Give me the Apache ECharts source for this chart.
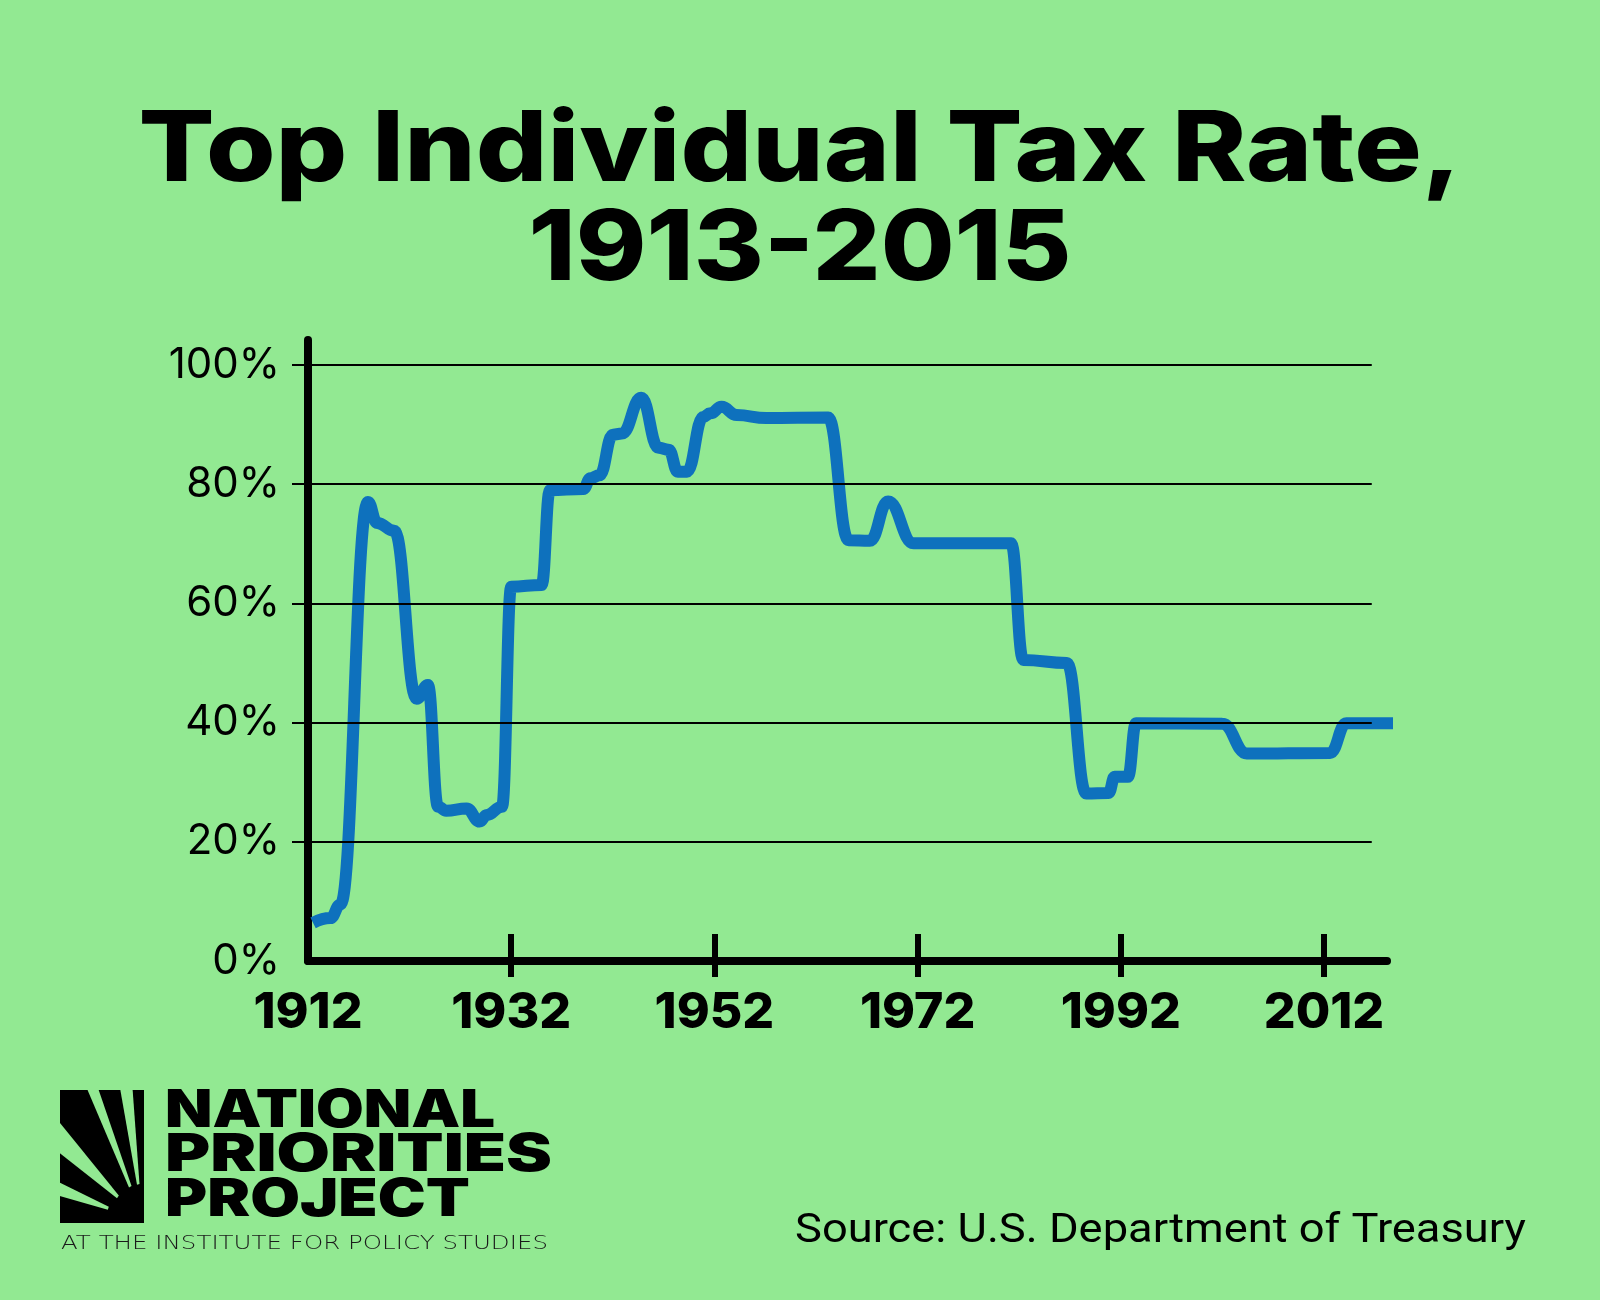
<!DOCTYPE html>
<html>
<head>
<meta charset="utf-8">
<title>Top Individual Tax Rate, 1913-2015</title>
<script src="https://cdn.jsdelivr.net/npm/echarts@6/dist/echarts.min.js"></script>
<style>
  html, body { margin: 0; padding: 0; background: #92e992; }
  #container { width: 1600px; height: 1300px; }
</style>
</head>
<body>
<div id="container"></div>
<script>
/* Values: year and top marginal rate (%),
   taken at the corners / turning points of the curve */
var years = [1912.5, 1914.2, 1915.2, 1917.9, 1918.8, 1920.5, 1922.7, 1923.8, 1924.8, 1925.6,
             1927.6, 1928.9, 1929.6, 1931.1, 1932.0, 1935.0, 1935.8, 1939.1, 1939.8, 1940.7,
             1942.0, 1942.9, 1944.8, 1946.5, 1947.5, 1948.4, 1949.3, 1950.9, 1951.6, 1952.7,
             1954.2, 1957.1, 1963.2, 1965.2, 1967.3, 1969.1, 1971.6, 1981.2, 1982.4, 1986.7,
             1988.6, 1990.8, 1991.4, 1992.7, 1993.5, 2002.0, 2004.4, 2012.6, 2014.2, 2019.5];
var rates = [6.4, 7.2, 9.5, 77, 73.5, 72.2, 44, 46.3, 25.9, 25.2,
             25.6, 23.4, 24.5, 25.9, 62.8, 63.1, 79, 79.2, 81, 81.5,
             88.3, 88.5, 94.5, 86.1, 85.8, 82.1, 82.1, 91.3, 91.9, 93,
             91.6, 91.1, 91.2, 70.6, 70.5, 77.1, 70.1, 70.1, 50.5, 50,
             28.1, 28.2, 30.9, 30.9, 39.9, 39.8, 34.8, 34.9, 39.9, 39.9];

var yearLabels = [1912, 1932, 1952, 1972, 1992, 2012];
var yearTicks = [1932, 1952, 1972, 1992, 2012];
var rateLabels = [0, 20, 40, 60, 80, 100];
var rateTicks = [20, 40, 60, 80, 100];

var seriesData = years.map(function (y, i) {
    return [y, rates[i]];
});

/* gridlines stop a little short of the end of the x axis */
var gridEnd = 2016.7;
var gridLines = rateTicks.map(function (v) {
    return [{ coord: [1912, v] }, { coord: [gridEnd, v] }];
});

/* measure text so lines of text can be stretched to their width */
var measureCtx = document.createElement('canvas').getContext('2d');
function fitScale(text, font, width) {
    measureCtx.font = font;
    return width / measureCtx.measureText(text).width;
}

var green = '#92e992';
var titleFont = '800 98px Inter';
var logoFont = '900 52px Inter';
var subFont = '300 20px "DejaVu Sans"';
var sourceFont = '400 40px Roboto';

function fittedText(text, left, top, width, font, color) {
    return {
        type: 'text',
        left: left,
        top: top,
        scaleX: fitScale(text, font, width),
        style: {
            text: text,
            font: font,
            fill: color || '#000'
        }
    };
}

function titleLine(text, y, width) {
    return {
        type: 'text',
        x: 800,
        y: y,
        scaleX: fitScale(text, titleFont, width),
        style: {
            text: text,
            font: titleFont,
            textAlign: 'center',
            fill: '#000'
        }
    };
}

var dom = document.getElementById('container');
var myChart = echarts.init(dom);

var yearFormatter = function (v) { return String(v); };

var option = {
    backgroundColor: green,
    animation: false,
    grid: {
        left: 308,
        right: 213,
        top: 340,
        bottom: 339
    },
    xAxis: [
        {
            type: 'value',
            position: 'bottom',
            min: 1912,
            max: 2018.2,
            interval: 20,
            axisLine: {
                show: true,
                lineStyle: { color: '#000', width: 8 }
            },
            axisTick: {
                show: true,
                inside: true,
                length: 27,
                customValues: yearTicks,
                lineStyle: { color: '#000', width: 6 }
            },
            axisLabel: {
                customValues: yearLabels,
                margin: 27,
                color: '#000',
                fontFamily: 'Inter',
                fontWeight: 800,
                fontSize: 50,
                formatter: yearFormatter
            },
            splitLine: { show: false }
        },
        {
            type: 'value',
            position: 'bottom',
            min: 1912,
            max: 2018.2,
            interval: 20,
            axisLine: { show: false },
            axisTick: {
                show: true,
                length: 16,
                customValues: yearTicks,
                lineStyle: { color: '#000', width: 6 }
            },
            axisLabel: { show: false },
            splitLine: { show: false }
        }
    ],
    yAxis: {
        type: 'value',
        min: 0,
        max: 104.2,
        interval: 20,
        axisLine: {
            show: true,
            lineStyle: { color: '#000', width: 8 }
        },
        axisTick: {
            show: true,
            length: 16,
            customValues: rateTicks,
            lineStyle: { color: '#000', width: 2 }
        },
        axisLabel: {
            customValues: rateLabels,
            margin: 28,
            color: '#000',
            fontFamily: 'Inter',
            fontWeight: 400,
            fontSize: 42,
            formatter: '{value}%'
        },
        splitLine: { show: false }
    },
    series: [
        {
            name: 'gridlines',
            type: 'line',
            data: [],
            silent: true,
            z: 1,
            markLine: {
                silent: true,
                symbol: 'none',
                label: { show: false },
                lineStyle: { color: '#000', width: 2, type: 'solid' },
                data: gridLines
            }
        },
        {
            name: 'Top Individual Tax Rate',
            type: 'line',
            xAxisIndex: 0,
            data: seriesData,
            showSymbol: false,
            smooth: 0.45,
            smoothMonotone: 'x',
            clip: false,
            lineStyle: { color: '#0e71bd', width: 12 },
            z: 2
        }
    ],
    graphic: [
        titleLine('Top Individual Tax Rate,', 103, 1323),
        titleLine('1913-2015', 202, 543),
        /* sunburst mark of the logo */
        {
            type: 'rect',
            shape: { x: 60, y: 1090, width: 84, height: 133 },
            style: { fill: '#000' }
        },
        {
            type: 'polygon',
            shape: { points: [[86.7, 1088], [98, 1088], [131.5, 1186], [129, 1187.5]] },
            style: { fill: green }
        },
        {
            type: 'polygon',
            shape: { points: [[120, 1088], [132.5, 1088], [139.5, 1184], [137, 1184.8]] },
            style: { fill: green }
        },
        {
            type: 'polygon',
            shape: { points: [[58, 1120.5], [58, 1151.7], [117, 1198.2], [118.8, 1195.5]] },
            style: { fill: green }
        },
        {
            type: 'polygon',
            shape: { points: [[58, 1181.7], [58, 1195.5], [107.8, 1209.8], [108.8, 1206.8]] },
            style: { fill: green }
        },
        fittedText('NATIONAL', 165, 1085, 330, logoFont),
        fittedText('PRIORITIES', 165, 1129.5, 387, logoFont),
        fittedText('PROJECT', 165, 1174, 305, logoFont),
        fittedText('AT THE INSTITUTE FOR POLICY STUDIES', 61, 1234, 487, subFont, '#1a1a1a'),
        fittedText('Source: U.S. Department of Treasury', 795, 1212, 731, sourceFont)
    ]
};

myChart.setOption(option);
</script>
</body>
</html>
